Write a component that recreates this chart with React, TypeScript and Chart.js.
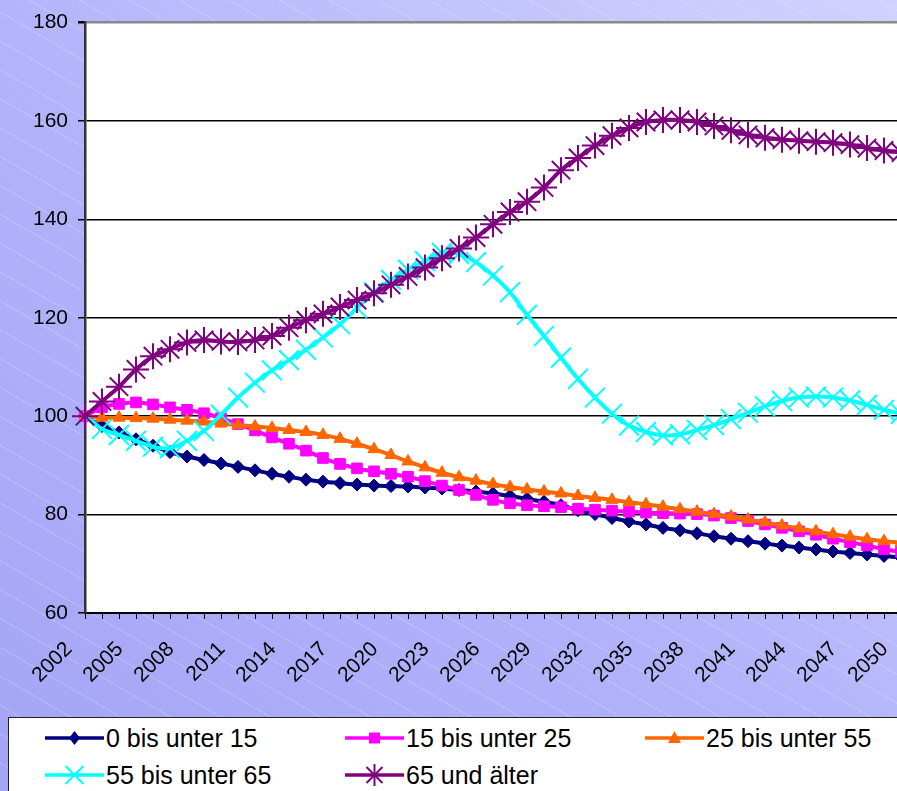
import React, { useEffect, useRef } from 'react';
import { Chart, registerables } from 'chart.js';

Chart.register(...registerables);

const years = [
  '2002', '2003', '2004', '2005', '2006', '2007', '2008', '2009', '2010', '2011',
  '2012', '2013', '2014', '2015', '2016', '2017', '2018', '2019', '2020', '2021',
  '2022', '2023', '2024', '2025', '2026', '2027', '2028', '2029', '2030', '2031',
  '2032', '2033', '2034', '2035', '2036', '2037', '2038', '2039', '2040', '2041',
  '2042', '2043', '2044', '2045', '2046', '2047', '2048', '2049', '2050',
];

const tickLabels = [
  '2002', '2005', '2008', '2011', '2014', '2017', '2020', '2023', '2026',
  '2029', '2032', '2035', '2038', '2041', '2044', '2047', '2050',
];

const yTicks = [60, 80, 100, 120, 140, 160, 180];

const age0to15 = [
  100, 98, 96.7, 95.3, 94, 92.7, 91.8, 91.1, 90.4, 89.7,
  89, 88.3, 87.7, 87.1, 86.7, 86.4, 86.1, 85.9, 85.8, 85.7,
  85.5, 85.3, 85, 84.7, 84.3, 83.8, 83.2, 82.6, 81.9, 80.9,
  80.1, 79.3, 78.6, 78, 77.3, 76.8, 76.2, 75.6, 75.1, 74.6,
  74.1, 73.7, 73.3, 72.9, 72.5, 72.2, 71.9, 71.6, 71.3,
];

const age15to25 = [
  100, 101.8, 102.5, 102.8, 102.4, 101.8, 101.3, 100.6, 99.6, 98.4,
  97.1, 95.7, 94.4, 93, 91.5, 90.3, 89.4, 88.8, 88.3, 87.7,
  86.8, 85.9, 85, 84, 83, 82.3, 81.9, 81.7, 81.5, 81.2,
  81, 80.8, 80.6, 80.4, 80.3, 80.2, 80.1, 79.8, 79.3, 78.7,
  78, 77.3, 76.6, 75.9, 75.1, 74.4, 73.7, 73, 72.4,
];

const age25to55 = [
  100, 99.7, 99.7, 99.6, 99.5, 99.3, 99.1, 98.9, 98.5, 98.2,
  97.9, 97.6, 97.2, 96.8, 96.2, 95.4, 94.4, 93.3, 92.1, 90.8,
  89.6, 88.5, 87.6, 86.9, 86.2, 85.6, 85.1, 84.7, 84.3, 83.8,
  83.4, 83, 82.5, 82.1, 81.6, 81.1, 80.6, 80.1, 79.6, 79,
  78.4, 77.8, 77.2, 76.6, 76, 75.5, 75, 74.6, 74.3,
];

const age55to65 = [
  100, 97.4, 96.2, 95, 93.8, 93.5, 95, 97, 100.3, 103.8,
  106.8, 109.3, 111.4, 113.5, 116, 118.7, 122, 125.2, 127.7, 129.8,
  131.5, 133.2, 133, 131.3, 128.6, 125.2, 120.6, 116.3, 111.9, 107.6,
  103.8, 100.5, 98.1, 96.8, 96.1, 96.3, 97.2, 98.2, 99.4, 100.7,
  102, 103.1, 103.8, 104, 103.8, 103.2, 102.3, 101.3, 100.5,
];

const age65plus = [
  100, 103, 106, 109.5, 112.2, 113.6, 115, 115.5, 115.2, 115.1,
  115.5, 116.3, 118, 119.5, 120.8, 122.2, 123.6, 125, 126.7, 128.4,
  130.2, 132.1, 134.1, 136.3, 139, 141.5, 143.6, 146.5, 150, 152.5,
  155, 157, 158.6, 159.8, 160.2, 160.2, 159.8, 159, 158.1, 157.2,
  156.6, 156.2, 156, 155.8, 155.6, 155.2, 154.5, 154, 153.6,
];

const seriesNames = [
  '0 bis unter 15',
  '15 bis unter 25',
  '25 bis unter 55',
  '55 bis unter 65',
  '65 und älter',
];

const FONT = "'Liberation Sans', Arial, Helvetica, sans-serif";

const plotBg = {
  id: 'plotBg',
  beforeDraw(chart: any) {
    const { ctx, chartArea } = chart;
    if (!chartArea) return;
    ctx.save();
    ctx.fillStyle = '#ffffff';
    ctx.fillRect(chartArea.left, chartArea.top, chartArea.right - chartArea.left, chartArea.bottom - chartArea.top);
    ctx.restore();
  },
};

function LegendMarker({ kind, color }: { kind: string; color: string }) {
  const cx = 29.5;
  const cy = 12;
  let marker: any = null;
  if (kind === 'diamond')
    marker = <polygon points={`${cx},${cy - 7} ${cx + 5.5},${cy} ${cx},${cy + 7} ${cx - 5.5},${cy}`} fill={color} />;
  if (kind === 'square') marker = <rect x={cx - 5.5} y={cy - 5.5} width={11} height={11} fill={color} />;
  if (kind === 'triangle')
    marker = <polygon points={`${cx},${cy - 7} ${cx + 6.5},${cy + 5} ${cx - 6.5},${cy + 5}`} fill={color} />;
  if (kind === 'x')
    marker = (
      <g stroke={color} strokeWidth={2}>
        <line x1={cx - 9} y1={cy - 9} x2={cx + 9} y2={cy + 9} />
        <line x1={cx - 9} y1={cy + 9} x2={cx + 9} y2={cy - 9} />
      </g>
    );
  if (kind === 'star')
    marker = (
      <g stroke={color} strokeWidth={2}>
        <line x1={cx - 8} y1={cy - 8} x2={cx + 8} y2={cy + 8} />
        <line x1={cx - 8} y1={cy + 8} x2={cx + 8} y2={cy - 8} />
        <line x1={cx} y1={cy - 11} x2={cx} y2={cy + 11} />
      </g>
    );
  return (
    <svg width={59} height={24} style={{ display: 'block', flex: 'none' }}>
      <line x1={0} y1={cy} x2={59} y2={cy} stroke={color} strokeWidth={3.5} />
      {marker}
    </svg>
  );
}

export default function App() {
  const canvasRef = useRef<HTMLCanvasElement | null>(null);

  useEffect(() => {
    const canvas = canvasRef.current;
    if (!canvas) return;
    const common = {
      borderWidth: 4,
      tension: 0.4,
      clip: false as any,
      pointBorderWidth: 2,
    };
    const chart = new Chart(canvas, {
      type: 'line',
      data: {
        labels: years,
        datasets: [
          {
            ...common,
            label: seriesNames[0],
            data: age0to15,
            borderColor: '#000080',
            backgroundColor: '#000080',
            pointStyle: 'rectRot',
            pointRadius: 6.5,
            pointBorderWidth: 1,
            order: 4,
          },
          {
            ...common,
            label: seriesNames[1],
            data: age15to25,
            borderColor: '#ff00ff',
            backgroundColor: '#ff00ff',
            pointStyle: 'rect',
            pointRadius: 7.5,
            pointBorderWidth: 1,
            order: 3,
          },
          {
            ...common,
            label: seriesNames[2],
            data: age25to55,
            borderColor: '#ff6600',
            backgroundColor: '#ff6600',
            pointStyle: 'triangle',
            pointRadius: 7,
            pointBorderWidth: 1,
            order: 2,
          },
          {
            ...common,
            label: seriesNames[3],
            data: age55to65,
            borderColor: '#00ffff',
            backgroundColor: '#00ffff',
            pointStyle: 'crossRot',
            pointRadius: 14,
            order: 1,
          },
          {
            ...common,
            label: seriesNames[4],
            data: age65plus,
            borderColor: '#800080',
            backgroundColor: '#800080',
            pointStyle: 'star',
            pointRadius: 13,
            order: 0,
          },
        ],
      },
      options: {
        animation: false,
        responsive: false,
        devicePixelRatio: 1,
        layout: { padding: { left: 0, top: 20, right: 59, bottom: 7 } },
        plugins: { legend: { display: false }, tooltip: { enabled: false } },
        scales: {
          x: {
            type: 'category',
            afterFit: (scale: any) => {
              scale.height = 80;
            },
            ticks: {
              autoSkip: false,
              maxRotation: 45,
              minRotation: 45,
              padding: 18,
              labelOffset: -16,
              color: '#000',
              font: { family: FONT, size: 21 },
              callback: (_v: any, i: number) => (tickLabels.includes(years[i]) ? years[i] : ''),
            },
            grid: {
              drawOnChartArea: false,
              drawTicks: true,
              tickLength: 6,
              color: '#000',
              lineWidth: 1,
            },
            border: { color: '#000', width: 2 },
          },
          y: {
            min: 60,
            max: 180,
            afterFit: (scale: any) => {
              scale.width = 85;
            },
            afterBuildTicks: (scale: any) => {
              scale.ticks = yTicks.map((v) => ({ value: v }));
            },
            ticks: {
              padding: 10,
              color: '#000',
              font: { family: FONT, size: 21 },
            },
            grid: {
              color: (c: any) => (c.tick && c.tick.value === 180 ? '#8a8a8a' : '#000'),
              lineWidth: (c: any) => (c.tick && c.tick.value === 180 ? 2.5 : 1.5),
              tickColor: '#000',
              tickLength: 7,
            },
            border: { color: '#333', width: 2.5 },
          },
        },
      },
      plugins: [plotBg],
    });
    return () => chart.destroy();
  }, []);

  const legendItems = [
    { name: seriesNames[0], kind: 'diamond', color: '#000080', x: 45, y: 738 },
    { name: seriesNames[1], kind: 'square', color: '#ff00ff', x: 345, y: 738 },
    { name: seriesNames[2], kind: 'triangle', color: '#ff6600', x: 645, y: 738 },
    { name: seriesNames[3], kind: 'x', color: '#00ffff', x: 45, y: 775 },
    { name: seriesNames[4], kind: 'star', color: '#800080', x: 345, y: 775 },
  ];

  return (
    <div
      style={{
        position: 'fixed',
        left: 0,
        top: 0,
        width: 897,
        height: 791,
        overflow: 'hidden',
        background: 'linear-gradient(to top right, #a4a4f6 0%, #b4b4fb 50%, #d2d2ff 100%)',
      }}
    >
      <div
        style={{
          position: 'absolute',
          inset: 0,
          background:
            'repeating-linear-gradient(30deg, rgba(255,255,255,0) 0px, rgba(255,255,255,0) 24px, rgba(255,255,255,0.2) 24px, rgba(255,255,255,0.2) 25px)',
        }}
      />
      <canvas
        ref={canvasRef}
        width={960}
        height={700}
        style={{ position: 'absolute', left: 0, top: 0, width: 960, height: 700 }}
      />
      <div
        style={{
          position: 'absolute',
          left: 8,
          top: 717,
          width: 1000,
          height: 200,
          background: '#fff',
          border: '1.5px solid #222',
        }}
      />
      {legendItems.map((it) => (
        <div
          key={it.name}
          style={{
            position: 'absolute',
            left: it.x,
            top: it.y - 12,
            height: 24,
            display: 'flex',
            alignItems: 'center',
            whiteSpace: 'nowrap',
          }}
        >
          <LegendMarker kind={it.kind} color={it.color} />
          <span
            style={{
              display: 'inline-block',
              marginLeft: 2,
              fontFamily: FONT,
              fontSize: 25,
              lineHeight: '24px',
              color: '#000',
            }}
          >
            {it.name}
          </span>
        </div>
      ))}
    </div>
  );
}
